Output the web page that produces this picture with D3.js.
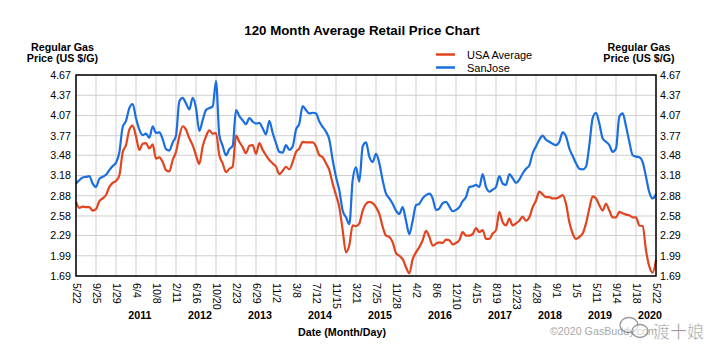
<!DOCTYPE html>
<html><head><meta charset="utf-8">
<script src="https://cdn.jsdelivr.net/npm/d3@7"></script>
<style>
body{margin:0;background:#fff;}
svg{display:block;font-family:"Liberation Sans",Arial,sans-serif;}
</style></head>
<body><svg id="c" width="726" height="357"></svg>
<script>
// ---- data (3-week samples starting 2010-05-22) ----
const startDate = "2010-05-22";
const stepDays = 21;
const sanJose = [
3.06,3.11,3.15,3.16,3.17,3.06,3.01,3.13,3.16,3.19,
3.26,3.32,3.37,3.52,3.90,3.99,4.18,4.24,4.03,3.86,
3.78,3.80,3.74,3.91,3.81,3.82,3.72,3.57,3.55,3.67,
3.77,4.28,4.33,4.25,4.16,4.33,4.18,3.84,4.00,4.15,
4.18,4.20,4.58,3.78,3.62,3.48,3.57,3.62,4.15,4.06,
4.00,3.94,4.03,3.98,3.95,3.96,3.88,3.79,3.99,
3.81,3.66,3.53,3.52,3.63,3.56,3.61,3.86,3.95,4.21,
4.15,4.10,4.11,4.10,3.98,3.90,3.83,3.71,3.41,3.16,
2.96,2.66,2.56,2.46,3.11,3.30,3.09,3.61,3.67,3.46,
3.38,3.50,3.36,3.11,2.91,2.84,2.76,2.66,2.61,2.71,
2.51,2.31,2.51,2.74,2.76,2.84,2.89,2.91,2.84,2.67,
2.69,2.77,2.79,2.72,2.65,2.67,
2.71,2.80,2.86,3.01,3.02,3.04,3.01,3.20,3.01,2.94,
2.97,3.01,3.17,3.06,3.04,3.20,3.14,3.07,3.12,3.21,
3.28,3.33,3.51,3.61,3.71,3.77,3.71,3.68,3.65,3.63,
3.68,3.82,3.76,3.58,3.47,3.36,3.28,3.27,3.31,3.63,
4.03,4.11,3.95,3.73,3.68,3.63,3.53,3.58,4.05,4.10,
3.91,3.68,3.48,3.46,3.45,3.38,3.16,2.93,2.84,2.90];
const usaAverage = [
2.79,2.70,2.72,2.71,2.71,2.66,2.68,2.80,2.84,2.89,
3.01,3.07,3.10,3.18,3.52,3.63,3.86,3.92,3.76,3.56,
3.65,3.66,3.58,3.64,3.43,3.45,3.38,3.26,3.24,3.41,
3.53,3.76,3.91,3.86,3.73,3.63,3.48,3.35,3.61,3.76,
3.85,3.80,3.81,3.48,3.36,3.23,3.28,3.31,3.77,3.68,
3.60,3.51,3.62,3.63,3.50,3.66,3.56,3.48,3.41,
3.36,3.31,3.20,3.25,3.31,3.27,3.38,3.53,3.58,3.68,
3.67,3.67,3.67,3.61,3.48,3.45,3.36,3.26,3.06,2.89,
2.71,2.37,2.04,2.15,2.44,2.43,2.47,2.66,2.76,2.79,
2.77,2.71,2.61,2.42,2.29,2.27,2.19,2.03,1.99,1.94,
1.82,1.73,1.94,2.04,2.12,2.22,2.36,2.27,2.14,2.17,
2.19,2.18,2.23,2.22,2.16,2.18,
2.22,2.34,2.29,2.29,2.31,2.40,2.34,2.37,2.24,2.24,
2.32,2.37,2.64,2.49,2.44,2.54,2.44,2.47,2.51,2.57,
2.51,2.56,2.71,2.81,2.94,2.90,2.86,2.86,2.84,2.84,
2.86,2.89,2.76,2.49,2.32,2.24,2.27,2.32,2.47,2.69,
2.87,2.84,2.74,2.66,2.76,2.66,2.56,2.56,2.64,2.62,
2.60,2.59,2.56,2.56,2.44,2.43,2.07,1.83,1.74,1.93];
const xTickLabels = ["5/22","9/25","1/29","6/4","10/8","2/11","6/16","10/20","2/23","6/29","11/2","3/8","7/12","11/15","3/21","7/25","11/28","4/2","8/6","12/10","4/15","8/19","12/23","4/28","9/1","1/5","5/11","9/14","1/18","5/22"];
const xTickStepDays = 126;
const yearLabels = ["2011","2012","2013","2014","2015","2016","2017","2018","2019","2020"];
const yearLabelDates = ["2011-06-29","2012-07-11","2013-07-24","2014-08-06","2015-08-19","2016-08-31","2017-09-13","2018-07-25","2019-06-05","2020-04-15"];
const yTicks = [1.69,1.99,2.29,2.58,2.88,3.18,3.48,3.77,4.07,4.37,4.67];
const seriesNames = ["USA Average","SanJose"];
const seriesColors = ["#e1441f","#1a6ee0"];

// ---- drawing ----
const parse = d3.timeParse("%Y-%m-%d");
const t0 = parse(startDate);
const dates = sanJose.map((_, i) => d3.timeDay.offset(t0, stepDays * i));
const tickDates = xTickLabels.map((_, k) => d3.timeDay.offset(t0, xTickStepDays * k));
const svg = d3.select("#c");
const L = 76, R = 656, T = 75, B = 276;
const x = d3.scaleTime().domain([t0, tickDates[tickDates.length - 1]]).range([L, R]);
const y = d3.scaleLinear().domain([1.69, 4.67]).range([B, T]);
const fs = "10.7px";

// grid
const g = svg.append("g");
g.selectAll("line.v").data(tickDates).join("line")
  .attr("x1", d => x(d)).attr("x2", d => x(d)).attr("y1", T).attr("y2", B)
  .attr("stroke", "#cfcfcf").attr("stroke-width", 1);
g.selectAll("line.h").data(yTicks).join("line")
  .attr("x1", L).attr("x2", R).attr("y1", d => y(d)).attr("y2", d => y(d))
  .attr("stroke", "#cfcfcf").attr("stroke-width", 1);

// lines
const line = d3.line().x((d, i) => x(dates[i])).y(d => y(d)).curve(d3.curveMonotoneX);
[usaAverage, sanJose].forEach((s, k) => {
  svg.append("path").datum(s).attr("d", line).attr("fill", "none")
    .attr("stroke", seriesColors[k]).attr("stroke-width", 2.2)
    .attr("stroke-linejoin", "round");
});

// frame
svg.append("rect").attr("x", L).attr("y", T).attr("width", R - L).attr("height", B - T)
  .attr("fill", "none").attr("stroke", "#000").attr("stroke-width", 1.5);

// y axes
const fmt = d3.format(".2f");
const ay = svg.append("g").attr("transform", `translate(${L},0)`)
  .call(d3.axisLeft(y).tickValues(yTicks).tickFormat(fmt).tickSize(0).tickPadding(5));
const ay2 = svg.append("g").attr("transform", `translate(${R},0)`)
  .call(d3.axisRight(y).tickValues(yTicks).tickFormat(fmt).tickSize(0).tickPadding(4));
[ay, ay2].forEach(a => {
  a.select(".domain").remove();
  a.selectAll("text").attr("font-size", fs).attr("fill", "#000").attr("font-family", "Liberation Sans, Arial");
});

// x axis
const ax = svg.append("g").attr("transform", `translate(0,${B})`)
  .call(d3.axisBottom(x).tickValues(tickDates).tickFormat((d, i) => xTickLabels[i]).tickSize(0));
ax.select(".domain").remove();
ax.selectAll("text").attr("font-size", fs).attr("fill", "#000").attr("font-family", "Liberation Sans, Arial")
  .attr("text-anchor", "start").attr("transform", "rotate(90)")
  .attr("x", 7).attr("y", 0).attr("dy", "0.35em");

// year labels
svg.append("g").selectAll("text").data(yearLabels).join("text")
  .attr("x", (d, i) => x(parse(yearLabelDates[i]))).attr("y", 319)
  .attr("text-anchor", "middle").attr("font-size", fs).attr("font-weight", "bold").text(d => d);

// axis titles
svg.append("text").attr("x", 342).attr("y", 335.5).attr("text-anchor", "middle")
  .attr("font-size", fs).attr("font-weight", "bold").text("Date (Month/Day)");
[[62.5], [639]].forEach(([cx]) => {
  svg.append("text").attr("x", cx).attr("y", 50.5).attr("text-anchor", "middle")
    .attr("font-size", fs).attr("font-weight", "bold").text("Regular Gas");
  svg.append("text").attr("x", cx).attr("y", 62).attr("text-anchor", "middle")
    .attr("font-size", fs).attr("font-weight", "bold").text("Price (US $/G)");
});

// title
svg.append("text").attr("x", 362).attr("y", 35).attr("text-anchor", "middle")
  .attr("font-size", "13.3px").attr("font-weight", "bold").text("120 Month Average Retail Price Chart");

// legend
seriesNames.forEach((n, k) => {
  const ly = 54.5 + k * 13;
  svg.append("line").attr("x1", 436).attr("x2", 455).attr("y1", ly).attr("y2", ly)
    .attr("stroke", seriesColors[k]).attr("stroke-width", 2.5);
  svg.append("text").attr("x", 467).attr("y", ly + 4).attr("font-size", "11px").attr("fill", "#000").text(n);
});

// copyright
svg.append("text").attr("x", 550).attr("y", 335).attr("font-size", fs).attr("fill", "#a8a8a8")
  .text("\u00a92020 GasBuddy.com");

// watermark
const wm = svg.append("g").attr("opacity", 0.75);
wm.append("ellipse").attr("cx", 629).attr("cy", 325).attr("rx", 9).attr("ry", 7.5)
  .attr("fill", "rgba(255,255,255,0.6)").attr("stroke", "#777").attr("stroke-width", 1.3);
wm.append("ellipse").attr("cx", 640).attr("cy", 331).attr("rx", 8).attr("ry", 6.5)
  .attr("fill", "rgba(255,255,255,0.6)").attr("stroke", "#777").attr("stroke-width", 1.3);
wm.append("text").attr("x", 653).attr("y", 338).attr("font-size", "17px")
  .attr("font-family", "Noto Sans CJK SC").attr("fill", "#444")
  .attr("stroke", "#fff").attr("stroke-width", 0.6).text("渡十娘");
</script></body></html>
